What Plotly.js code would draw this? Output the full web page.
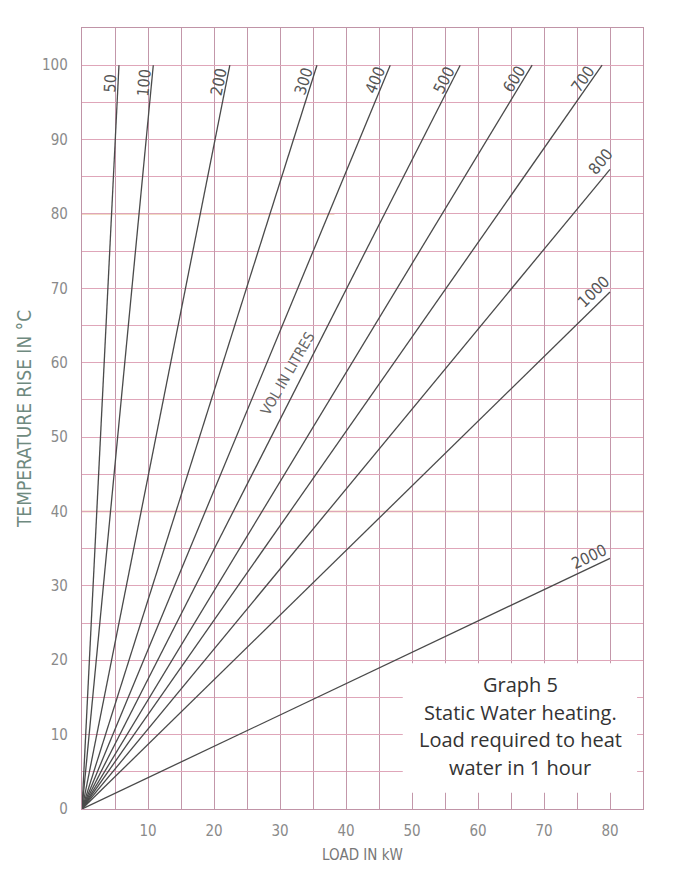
<!DOCTYPE html>
<html>
<head>
<meta charset="utf-8">
<script src="https://cdn.plot.ly/plotly-3.0.1.min.js"></script>
<style>html,body{margin:0;padding:0;background:#fff;}#chart{width:683px;height:881px;}</style>
</head>
<body>
<div id="chart"></div>
<script>
// ---- data ----
const volumes  = ['50','100','200','300','400','500','600','700','800','1000','2000'];
const endLoad  = [5.6, 10.8, 22.4, 35.6, 46.7, 57.3, 68.2, 78.8, 80, 80, 80];   // kW at line end
const endRise  = [100, 100, 100, 100, 100, 100, 100, 100, 86, 69.5, 33.7];      // °C at line end
const xTicks   = [10, 20, 30, 40, 50, 60, 70, 80];
const yTicks   = [0, 10, 20, 30, 40, 50, 60, 70, 80, 90, 100];
const noteLines = ['Graph 5', 'Static Water heating.', 'Load required to heat', 'water in 1 hour'];

// ---- layout / style constants ----
const W = 683, H = 881;
const M = {l: 82, r: 40, t: 28, b: 72};
const X_MAX = 85, Y_MAX = 105;
const pw = W - M.l - M.r, ph = H - M.t - M.b;
const pxX = pw / X_MAX, pxY = ph / Y_MAX;
const labelT   = [0.975, 0.975, 0.975, 0.975, 0.975, 0.975, 0.975, 0.975, 1.0, 0.985, 0.97];
const labelOff = [8, 8, 8, 8, 8, 8, 8, 8, 12, 12, 10];
const narrow = 'DejaVu Sans Condensed, Liberation Sans Narrow, sans-serif';

const lineColor = '#4a4a4a';
const traces = volumes.map((v, i) => ({
  type: 'scatter', mode: 'lines',
  x: [0, endLoad[i]], y: [0, endRise[i]],
  line: {color: lineColor, width: 1.3},
  hoverinfo: 'skip', showlegend: false, name: v
}));

const annotations = volumes.map((v, i) => {
  const dxp = endLoad[i] * pxX, dyp = endRise[i] * pxY;
  const len = Math.hypot(dxp, dyp);
  const ux = dxp / len, uy = dyp / len;
  const t = labelT[i], off = labelOff[i];
  return {
    x: endLoad[i] * t, y: endRise[i] * t, xref: 'x', yref: 'y',
    text: v, showarrow: false,
    textangle: -Math.atan2(dyp, dxp) * 180 / Math.PI,
    xshift: -uy * off, yshift: ux * off,
    font: {family: narrow, size: 16, color: '#555'}
  };
});

annotations.push({
  x: 31.2, y: 58.6, xref: 'x', yref: 'y', text: 'VOL IN LITRES', showarrow: false,
  textangle: -60,
  font: {family: narrow, size: 14.5, color: '#666'}
});

const noteY = [16.7, 13.0, 9.35, 5.55];
noteLines.forEach((s, i) => annotations.push({
  x: 66.4, y: noteY[i], xref: 'x', yref: 'y', text: s, showarrow: false,
  font: {family: 'Open Sans, Noto Sans, sans-serif', size: 20, color: '#333'}
}));

const shapes = [
  {type: 'rect', xref: 'x', yref: 'y', x0: 48.6, x1: 84.1, y0: 2.2, y1: 19.6,
   fillcolor: '#ffffff', line: {width: 0}, layer: 'between'},
  {type: 'line', xref: 'paper', yref: 'y', x0: 0, x1: 1, y0: 40, y1: 40,
   line: {color: '#e4b585', width: 1.3}, layer: 'between'},
  {type: 'line', xref: 'paper', yref: 'y', x0: 0, x1: 0.45, y0: 80, y1: 80,
   line: {color: '#e4b585', width: 1.3}, layer: 'between'}
];

const tickFont = {family: narrow, size: 15, color: '#8a8a8a'};
const vGrid = '#c397aa', hGrid = '#dfa6b9';

const layout = {
  width: W, height: H,
  margin: M,
  paper_bgcolor: '#ffffff', plot_bgcolor: '#ffffff',
  showlegend: false,
  xaxis: {
    range: [0, X_MAX], tickmode: 'array', tickvals: xTicks, ticktext: xTicks.map(String),
    showgrid: true, gridcolor: vGrid, gridwidth: 1,
    minor: {dtick: 5, tick0: 0, showgrid: true, gridcolor: vGrid, gridwidth: 1},
    zeroline: false, showline: true, linecolor: '#c094a7', linewidth: 1.2, mirror: true,
    ticks: '', tickfont: tickFont, ticklabelstandoff: 8,
    title: {text: 'LOAD IN kW', standoff: 10,
      font: {family: narrow, size: 15, color: '#777'}},
    automargin: false, fixedrange: true
  },
  yaxis: {
    range: [0, Y_MAX], tickmode: 'array', tickvals: yTicks, ticktext: yTicks.map(String),
    showgrid: true, gridcolor: hGrid, gridwidth: 1,
    minor: {dtick: 5, tick0: 0, showgrid: true, gridcolor: hGrid, gridwidth: 1},
    zeroline: false, showline: true, linecolor: '#c094a7', linewidth: 1.2, mirror: true,
    ticks: '', tickfont: tickFont, ticklabelstandoff: 10,
    title: {text: 'TEMPERATURE RISE IN °C', standoff: 5,
      font: {family: narrow, size: 19, color: '#6f8a80'}},
    automargin: false, fixedrange: true
  },
  annotations: annotations,
  shapes: shapes
};

Plotly.newPlot('chart', traces, layout, {displayModeBar: false, staticPlot: true});
</script>
</body>
</html>
